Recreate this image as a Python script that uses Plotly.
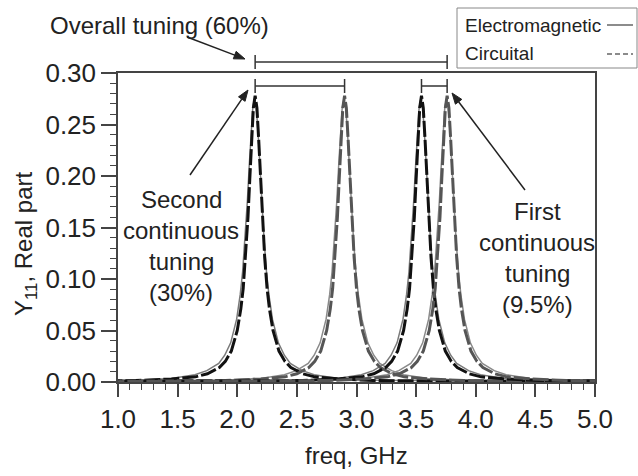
import math
import plotly.graph_objects as go

# ---------------- data ----------------
# resonance peak centres (GHz)
CIRCUIT_PEAKS = [2.15, 2.90, 3.545, 3.76]
EM_PEAKS = [2.145, 2.895, 3.54, 3.755]

# frequency offsets from each peak centre (GHz) and the curve values read there
OFFSETS = [-3.0, -1.0, -0.7, -0.5, -0.4, -0.3, -0.25, -0.2, -0.15, -0.12, -0.1, -0.08,
           -0.06, -0.045, -0.03, -0.015, 0.0, 0.015, 0.03, 0.045, 0.06, 0.08, 0.1,
           0.12, 0.15, 0.2, 0.25, 0.3, 0.4, 0.5, 0.7, 1.0, 3.0]
CIRCUIT_VALUES = [0.0002, 0.0014, 0.003, 0.005, 0.008, 0.014, 0.020, 0.030, 0.050, 0.071,
                  0.091, 0.121, 0.160, 0.197, 0.235, 0.266, 0.278, 0.266, 0.235, 0.197,
                  0.160, 0.121, 0.091, 0.071, 0.050, 0.030, 0.020, 0.014, 0.008, 0.005,
                  0.003, 0.0014, 0.0002]
EM_VALUES = [0.0002, 0.0018, 0.0035, 0.007, 0.011, 0.018, 0.026, 0.038, 0.061, 0.085,
             0.107, 0.138, 0.176, 0.209, 0.241, 0.266, 0.275, 0.266, 0.241, 0.209,
             0.176, 0.138, 0.107, 0.085, 0.061, 0.038, 0.026, 0.018, 0.011, 0.007,
             0.0035, 0.0018, 0.0002]

X_TICKS = [1.0, 1.5, 2.0, 2.5, 3.0, 3.5, 4.0, 4.5, 5.0]
Y_TICKS = [0.00, 0.05, 0.10, 0.15, 0.20, 0.25, 0.30]

# tuning ranges (GHz)
OVERALL_RANGE = [2.15, 3.76]
SECOND_RANGE = [2.15, 2.90]
FIRST_RANGE = [3.545, 3.76]

SECOND_LINES = ["Second", "continuous", "tuning", "(30%)"]
FIRST_LINES = ["First", "continuous", "tuning", "(9.5%)"]

# ---------------- styles ----------------
FONT = "Liberation Sans, Arial, sans-serif"
TXT = "#222222"
AX = "#444444"
CIRCUIT_COLORS = ["#111111", "#555555", "#111111", "#555555"]
EM_COLORS = ["#7a7a7a", "#8a8a8a", "#7a7a7a", "#8a8a8a"]

# plot area in pixels
L, R, T, B = 118, 595, 73, 382
W, H = 638, 476


def px(xp):
    return (xp - L) / (R - L)


def py(yp):
    return (B - yp) / (B - T)


fig = go.Figure()

for f0, c in zip(EM_PEAKS, EM_COLORS):
    fig.add_trace(go.Scatter(x=[f0 + o for o in OFFSETS], y=EM_VALUES, mode="lines",
                             line=dict(color=c, width=1.5), showlegend=False,
                             hoverinfo="skip"))
for f0, c in zip(CIRCUIT_PEAKS, CIRCUIT_COLORS):
    fig.add_trace(go.Scatter(x=[f0 + o for o in OFFSETS], y=CIRCUIT_VALUES, mode="lines",
                             line=dict(color=c, width=3, dash="16px,3px"), showlegend=False,
                             hoverinfo="skip"))

shapes = []
annotations = []


def bar(rng, y_pix, tick_half):
    y = py(y_pix)
    shapes.append(dict(type="line", xref="x", yref="paper", x0=rng[0], x1=rng[1], y0=y, y1=y,
                       line=dict(color="#333333", width=1.5)))
    for xv in rng:
        shapes.append(dict(type="line", xref="x", yref="paper", x0=xv, x1=xv,
                           y0=py(y_pix + tick_half), y1=py(y_pix - tick_half),
                           line=dict(color="#333333", width=1.5)))


bar(OVERALL_RANGE, 62, 7)
bar(SECOND_RANGE, 86, 7)
bar(FIRST_RANGE, 86, 7)


def arrow(head, tail, hl=11, hw=4):
    dx, dy = head[0] - tail[0], head[1] - tail[1]
    n = math.hypot(dx, dy)
    ux, uy = dx / n, dy / n
    bx, by = head[0] - ux * hl, head[1] - uy * hl
    shapes.append(dict(type="line", xref="paper", yref="paper",
                       x0=px(tail[0]), y0=py(tail[1]), x1=px(bx), y1=py(by),
                       line=dict(color="#222222", width=1.5)))
    p1 = (bx - uy * hw, by + ux * hw)
    p2 = (bx + uy * hw, by - ux * hw)
    path = "M {:.5f},{:.5f} L {:.5f},{:.5f} L {:.5f},{:.5f} Z".format(
        px(head[0]), py(head[1]), px(p1[0]), py(p1[1]), px(p2[0]), py(p2[1]))
    shapes.append(dict(type="path", xref="paper", yref="paper", path=path,
                       fillcolor="#222222", line=dict(color="#222222", width=1)))


arrow((245, 59), (187, 37))
arrow((248, 90), (190, 175))
arrow((452, 93), (525, 190))


def label(text, xp, yp, size=24, **kw):
    d = dict(xref="paper", yref="paper", x=px(xp), y=py(yp), text=text, showarrow=False,
             font=dict(family=FONT, size=size, color=TXT), xanchor="center", yanchor="middle",
             align="center")
    d.update(kw)
    annotations.append(d)


def block(lines, xp, yc, step=31):
    n = len(lines)
    for i, t in enumerate(lines):
        label(t, xp, yc + (i - (n - 1) / 2) * step)


label("Overall tuning (60%)", 159, 25)
block(SECOND_LINES, 181, 246)
block(FIRST_LINES, 537, 258)
label("freq, GHz", 356, 455)
label("Y<sub>11</sub>, Real part", 25, 244, textangle=-90)

# custom legend (text left, line sample right)
shapes.append(dict(type="rect", xref="paper", yref="paper", x0=px(457), x1=px(637),
                   y0=py(68), y1=py(8), line=dict(color="#888888", width=1)))
label("Electromagnetic", 463, 25, size=19, xanchor="left")
label("Circuital", 463, 54, size=19, xanchor="left")
shapes.append(dict(type="line", xref="paper", yref="paper", x0=px(607), x1=px(633),
                   y0=py(25), y1=py(25), line=dict(color="#666666", width=1.5)))
shapes.append(dict(type="line", xref="paper", yref="paper", x0=px(607), x1=px(633),
                   y0=py(54), y1=py(54), line=dict(color="#666666", width=1.5, dash="5px,3px")))

fig.update_layout(
    width=W, height=H,
    margin=dict(l=L, r=W - R, t=T, b=H - B, pad=0),
    paper_bgcolor="white", plot_bgcolor="white",
    shapes=shapes, annotations=annotations,
    font=dict(family=FONT, color=TXT),
)
fig.update_xaxes(range=[1, 5], tickvals=X_TICKS, ticktext=[f"{v:.1f}" for v in X_TICKS],
                 ticks="outside", ticklen=13, tickwidth=1.5, tickcolor=AX,
                 showline=True, linecolor=AX, linewidth=1.5, mirror=True,
                 showgrid=False, zeroline=False, automargin=False,
                 tickfont=dict(family=FONT, size=26, color=TXT),
                 minor=dict(ticks="outside", ticklen=6, dtick=0.1, tickcolor=AX, tickwidth=1))
fig.update_yaxes(range=[0, 0.30], tickvals=Y_TICKS, ticktext=[f"{v:.2f}" for v in Y_TICKS],
                 ticks="outside", ticklen=15, tickwidth=1.5, tickcolor=AX,
                 showline=True, linecolor=AX, linewidth=1.5, mirror=True,
                 showgrid=False, zeroline=False, automargin=False,
                 tickfont=dict(family=FONT, size=26, color=TXT),
                 minor=dict(ticks="outside", ticklen=6, dtick=0.01, tickcolor=AX, tickwidth=1))

fig.write_html("out.html")
